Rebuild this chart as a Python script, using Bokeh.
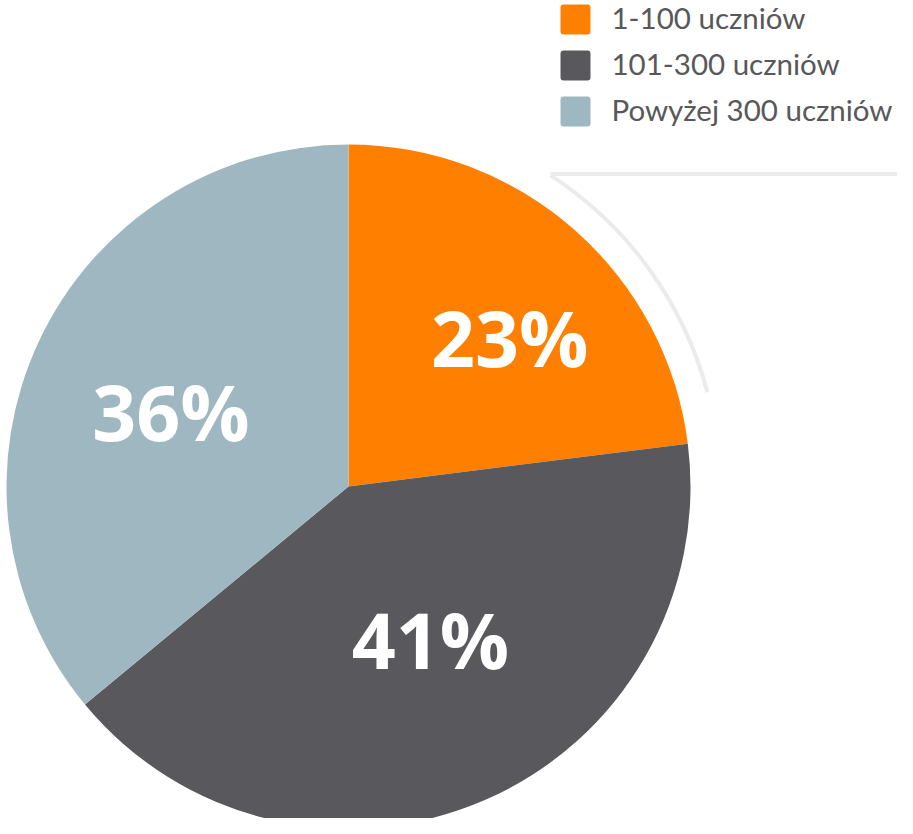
import math
from bokeh.plotting import figure
from bokeh.models import Range1d, ColumnDataSource
from bokeh.core.properties import value
from bokeh.embed import file_html
from bokeh.resources import INLINE

# ---- data ----
categories = ["1-100 uczniów", "101-300 uczniów", "Powyżej 300 uczniów"]
shares = [23, 41, 36]
colors = ["#FF8000", "#59585D", "#9FB7C1"]

W, H = 897, 818
CX, CY = 348, 332      # pie centre (data units == pixels)
R = 342

# label placement (layout): radius fraction and angular nudge (degrees)
label_rfrac = [0.635, 0.515, 0.56]
label_dang = [-6.5, 4.3, 3.2]

p = figure(width=W, height=H, output_backend="svg", toolbar_location=None,
           x_range=Range1d(0, W), y_range=Range1d(0, H), min_border=0,
           outline_line_color=None, background_fill_color="white",
           border_fill_color="white")
p.axis.visible = False
p.grid.visible = False

# wedges, clockwise from 12 o'clock
total = sum(shares)
starts, ends, mids = [], [], []
a = math.pi / 2
for s in shares:
    span = 2 * math.pi * s / total
    starts.append(a - span)
    ends.append(a)
    mids.append(a - span / 2)
    a -= span

lx, ly = [], []
for m, rf, da in zip(mids, label_rfrac, label_dang):
    ang = m + math.radians(da)
    lx.append(CX + rf * R * math.cos(ang))
    ly.append(CY + rf * R * math.sin(ang) + 3)

src = ColumnDataSource(dict(start=starts, end=ends, color=colors,
                            label=[f"{s}%" for s in shares], lx=lx, ly=ly))
p.wedge(x=CX, y=CY, radius=R, start_angle="start", end_angle="end",
        fill_color="color", line_color=None, source=src)

p.text(x="lx", y="ly", text="label", source=src, text_color="white",
       text_font=value("Open Sans"), text_font_style="bold", text_font_size="77px",
       text_align="center", text_baseline="middle")

# decorative arc + line
p.arc(x=CX, y=CY, radius=371, start_angle=math.radians(14.7),
      end_angle=math.radians(57.0), line_color="#EBEBEB", line_width=4)
p.line(x=[CX + 371 * math.cos(math.radians(57.0)), W],
       y=[644.5, 644.5], line_color="#EBEBEB", line_width=4)

# legend
sq_y = [H - 19, H - 65, H - 111]
txt_y = [y + 2 for y in sq_y]
p.rect(x=575, y=sq_y, width=24, height=24, fill_color=colors,
       line_color=colors, line_width=6, line_join="round")
p.text(x=611, y=txt_y, text=categories, text_color="#58585A",
       text_font=value("Lato"), text_font_size="29.5px",
       text_align="left", text_baseline="middle")

open("out.html", "w").write(file_html(p, INLINE))
